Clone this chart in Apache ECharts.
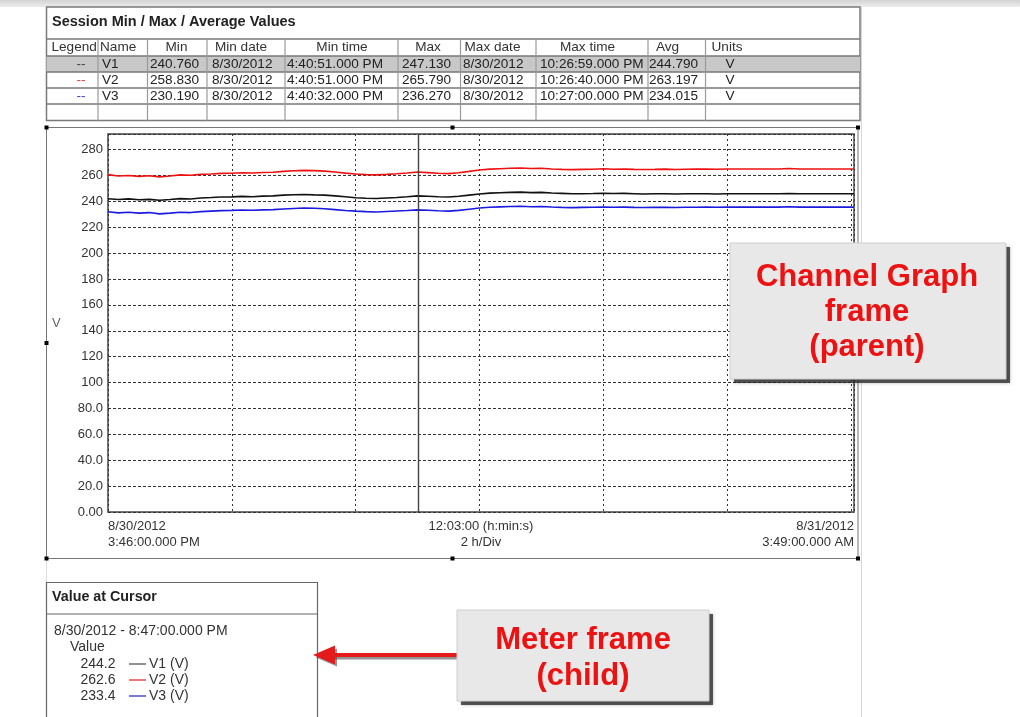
<!DOCTYPE html>
<html><head><meta charset="utf-8">
<script src="https://cdn.jsdelivr.net/npm/echarts@6/dist/echarts.min.js"></script>
<style>html,body{margin:0;padding:0;background:#fff}#c{width:1020px;height:717px}</style>
</head><body><div id="c"></div>
<script>
// ---- data ----
// minutes elapsed since 8/30/2012 3:46:00 PM
const minutes = [0,10,20,30,40,50,60,70,80,90,100,110,120,130,140,150,160,170,180,190,200,210,220,230,240,250,260,270,280,290,300,310,320,330,340,350,360,370,380,390,400,410,420,430,440,450,460,470,480,490,500,510,520,530,540,550,560,570,580,590,600,610,620,630,640,650,660,670,680,690,700,710,720,723];
const v1 = [242.0,241.4,241.9,241.2,241.5,240.8,241.4,242.1,241.8,242.6,242.9,243.3,243.4,243.8,243.5,244.0,244.2,244.8,245.1,245.3,245.0,244.8,244.2,243.5,242.8,242.4,242.2,242.6,243.0,243.5,244.2,243.9,243.5,243.3,243.9,244.8,245.7,246.3,246.6,246.9,247.1,246.7,246.9,246.4,246.1,245.8,245.9,246.0,246.2,246.0,246.1,245.9,245.7,245.8,245.9,245.7,245.8,245.8,245.9,245.7,245.8,245.8,245.8,245.8,245.8,245.8,246.0,245.8,245.8,245.8,245.8,245.8,245.8,245.8];
const v2 = [260.6,259.5,259.9,259.3,259.7,258.9,259.6,260.4,260.1,260.8,261.1,261.6,261.7,262.1,261.9,262.3,262.5,263.1,263.6,263.9,263.7,263.3,262.6,261.8,261.1,260.6,260.4,260.8,261.3,261.9,262.6,262.2,261.7,261.4,262.1,263.1,264.2,264.9,265.2,265.5,265.7,265.3,265.5,265.0,264.7,264.5,264.7,264.8,265.1,264.8,264.9,264.7,264.6,264.7,264.9,264.6,264.8,264.9,264.9,264.8,265.0,265.0,265.0,265.0,265.0,265.0,265.3,265.0,265.0,265.0,265.0,265.0,265.0,265.0];
const v3 = [232.0,231.1,231.5,230.9,231.3,230.3,230.9,231.6,231.3,232.0,232.4,232.8,233.0,233.3,233.1,233.4,233.6,234.1,234.5,234.8,234.6,234.2,233.6,232.9,232.4,232.0,231.7,232.1,232.5,232.9,233.4,233.1,232.7,232.4,233.0,233.9,234.8,235.4,235.7,236.0,236.2,235.8,236.0,235.6,235.3,235.1,235.3,235.4,235.6,235.4,235.5,235.3,235.2,235.3,235.4,235.2,235.4,235.4,235.5,235.4,235.5,235.5,235.5,235.5,235.5,235.5,235.8,235.5,235.5,235.5,235.5,235.5,235.5,235.5];
const cursorMinute = 301;
const seriesNames = ['V1','V2','V3'];
const seriesColors = ['#111111','#ee1111','#1a1ae0'];
const legendColors = ['#444444','#e04040','#4040c8'];
const sampleColors = ['#555555','#e03030','#3030c0'];
const yTicks = [0,20,40,60,80,100,120,140,160,180,200,220,240,260,280];
const headers = ['Legend','Name','Min','Min date','Min time','Max','Max date','Max time','Avg','Units'];
const minVals = ['240.760','258.830','230.190'];
const minDates = ['8/30/2012','8/30/2012','8/30/2012'];
const minTimes = ['4:40:51.000 PM','4:40:51.000 PM','4:40:32.000 PM'];
const maxVals = ['247.130','265.790','236.270'];
const maxDates = ['8/30/2012','8/30/2012','8/30/2012'];
const maxTimes = ['10:26:59.000 PM','10:26:40.000 PM','10:27:00.000 PM'];
const avgVals = ['244.790','263.197','234.015'];
const units = ['V','V','V'];
const cursorLabel = '8/30/2012 - 8:47:00.000 PM';
const cursorVals = ['244.2','262.6','233.4'];
const xStartLabel = ['8/30/2012','3:46:00.000 PM'];
const xMidLabel = ['12:03:00 (h:min:s)','2 h/Div'];
const xEndLabel = ['8/31/2012','3:49:00.000 AM'];

// ---- helpers ----
const F = '"Liberation Sans", Arial, sans-serif';
function txt(x, y, s, o) {
  o = o || {};
  return {type:'text', x:x, y:y, z:o.z||10, silent:true,
    style:{text:s, fill:o.fill||'#222', font:(o.bold?'bold ':'')+(o.size||13.6)+'px '+F,
      textAlign:o.align||'left', textVerticalAlign:'middle'}};
}
function ln(x1,y1,x2,y2,color,w,z) {
  return {type:'line', silent:true, z:z||5, shape:{x1:x1,y1:y1,x2:x2,y2:y2}, style:{stroke:color, lineWidth:w||1}};
}
function rc(x,y,w,h,style,z) {
  return {type:'rect', silent:true, z:z||4, shape:{x:x,y:y,width:w,height:h}, style:style};
}

const G = [];
// top band
G.push(rc(0,0,1020,7,{fill:new echarts.graphic.LinearGradient(0,0,0,1,[{offset:0,color:'#d4d4d4'},{offset:1,color:'#ececec'}])},1));
// page edge
G.push(ln(861.5,7,861.5,717,'#d8d8d8',1,1));
G.push(ln(46.5,558,46.5,582,'#dddddd',1,1));

// ---- table ----
const tL = 46.5, tR = 860, tT = 7, tB = 120.5;
G.push(rc(tL,tT,tR-tL,tB-tT,{fill:'#fff',stroke:'#7a7a7a',lineWidth:1.5},3));
G.push(rc(tL,56,tR-tL,16,{fill:'#c8c8c8'},3));
[39,56,72,88,104].forEach(y=>G.push(ln(tL,y,tR,y,'#777',1.5,5)));
const colX = [98,147.5,207,285,398,460.5,536,648,705.5];
colX.forEach(x=>G.push(ln(x,39,x,tB,'#9a9a9a',1.2,5)));
G.push(txt(52,21.5,'Session Min / Max / Average Values',{bold:true,size:14.5,fill:'#222'}));
// header texts
const hPos = [[51.5,'left'],[100,'left'],[176.5,'center'],[241,'center'],[342,'center'],[428,'center'],[492.5,'center'],[587.5,'center'],[667.5,'center'],[711.5,'left']];
headers.forEach((h,i)=>G.push(txt(hPos[i][0],47.5,h,{align:hPos[i][1],fill:'#333'})));
const rowY = [64,80,96];
seriesNames.forEach((n,i)=>{
  const y = rowY[i];
  G.push(txt(81,y,'--',{align:'center',fill:legendColors[i]}));
  G.push(txt(102,y,n));
  G.push(txt(150,y,minVals[i]));
  G.push(txt(212,y,minDates[i]));
  G.push(txt(287,y,minTimes[i]));
  G.push(txt(402,y,maxVals[i]));
  G.push(txt(463,y,maxDates[i]));
  G.push(txt(540,y,maxTimes[i]));
  G.push(txt(649,y,avgVals[i]));
  G.push(txt(730,y,units[i],{align:'center'}));
});

// ---- chart frame ----
G.push(rc(46.5,127.5,811.5,431,{fill:'none',stroke:'#777',lineWidth:1},3));
[[46.5,127.5],[452.5,127.5],[858,127.5],[46.5,343],[858,343],[46.5,558.5],[452.5,558.5],[858,558.5]].forEach(p=>G.push(rc(p[0]-2,p[1]-2,4,4,{fill:'#000'},6)));
G.push(txt(52,323,'V',{fill:'#666',size:13}));
G.push(txt(108,526.5,xStartLabel[0],{size:13,fill:'#333'}));
G.push(txt(108,542,xStartLabel[1],{size:13,fill:'#333'}));
G.push(txt(481,526.5,xMidLabel[0],{size:13,fill:'#333',align:'center'}));
G.push(txt(481,542,xMidLabel[1],{size:13,fill:'#333',align:'center'}));
G.push(txt(854,526.5,xEndLabel[0],{size:13,fill:'#333',align:'right'}));
G.push(txt(854,542,xEndLabel[1],{size:13,fill:'#333',align:'right'}));

// ---- meter frame ----
G.push(rc(46.5,582.5,271,150,{fill:'#fff',stroke:'#666',lineWidth:1.2},3));
G.push(ln(46.5,614,317.5,614,'#666',1.2,5));
G.push(txt(52,597,'Value at Cursor',{bold:true,size:14.3}));
G.push(txt(54,631,cursorLabel,{size:14,fill:'#333'}));
G.push(txt(70,647.5,'Value',{size:14,fill:'#333'}));
seriesNames.forEach((n,i)=>{
  const y = 664 + i*16;
  G.push(txt(80.5,y,cursorVals[i],{size:14,fill:'#333'}));
  G.push(ln(129,y,146,y,sampleColors[i],1.3,6));
  G.push(txt(149,y,n+' (V)',{size:14,fill:'#333'}));
});

// ---- callouts ----
function callout(x,y,w,h) {
  G.push(rc(x+4,y+4,w,h,{fill:'rgba(40,40,40,0.75)',shadowBlur:3,shadowColor:'rgba(0,0,0,0.4)'},48));
  G.push(rc(x,y,w,h,{fill:'#e8e8e8',stroke:'#cfcfcf',lineWidth:1},49));
}
const RED = '#ee1111';
callout(730,243,276,136);
G.push(txt(867,277,'Channel Graph',{bold:true,size:31,fill:RED,align:'center',z:50}));
G.push(txt(867,312.5,'frame',{bold:true,size:31,fill:RED,align:'center',z:50}));
G.push(txt(867,347,'(parent)',{bold:true,size:31,fill:RED,align:'center',z:50}));
callout(457,610,252,91);
G.push(txt(583,640,'Meter frame',{bold:true,size:31,fill:RED,align:'center',z:50}));
G.push(txt(583,676.5,'(child)',{bold:true,size:31,fill:RED,align:'center',z:50}));
// arrow with shadow
G.push({type:'line',silent:true,z:46,shape:{x1:334,y1:657.5,x2:458,y2:657.5},style:{stroke:'rgba(60,60,60,0.55)',lineWidth:4}});
G.push({type:'polygon',silent:true,z:46,shape:{points:[[316,657.5],[337,648.5],[337,666.5]]},style:{fill:'rgba(60,60,60,0.55)'}});
G.push({type:'line',silent:true,z:47,shape:{x1:332,y1:655,x2:458,y2:655},style:{stroke:'#e51a1a',lineWidth:4}});
G.push({type:'polygon',silent:true,z:47,shape:{points:[[313,655],[335,645.5],[335,664.5]]},style:{fill:'#e51a1a'}});

// ---- chart ----
const chart = echarts.init(document.getElementById('c'), null, {renderer:'canvas'});
const fmtY = v => v >= 100 ? String(v) : (v >= 10 ? v.toFixed(1) : v.toFixed(2));
const series = [v1,v2,v3].map((vals,i)=>({
  name: seriesNames[i], type:'line', showSymbol:false, symbol:'none', z:3,
  data: minutes.map((m,k)=>[m, vals[k]]),
  lineStyle:{color:seriesColors[i], width:1.6},
  itemStyle:{color:seriesColors[i]},
  markLine: i===0 ? {silent:true, symbol:'none', label:{show:false},
    lineStyle:{color:'#444', width:1.4, type:'solid'}, data:[{xAxis:cursorMinute}]} : undefined
}));
chart.setOption({
  animation:false,
  backgroundColor:'#ffffff',
  grid:{left:108, top:134, width:746, height:378, show:true, backgroundColor:'#fff', borderColor:'#444', borderWidth:1.5, containLabel:false, outerBoundsMode:'none'},
  xAxis:{type:'value', min:0, max:723, interval:120,
    axisLine:{show:false}, axisTick:{show:false}, axisLabel:{show:false},
    splitLine:{show:true, lineStyle:{color:'#333', width:1, type:[2,3]}}},
  yAxis:{type:'value', min:yTicks[0], max:292, interval:20,
    axisLine:{show:false}, axisTick:{show:false},
    axisLabel:{show:true, showMaxLabel:false, margin:5, color:'#333', fontSize:13, fontFamily:F, formatter:fmtY},
    splitLine:{show:true, lineStyle:{color:'#333', width:1, type:[3,2]}}},
  series: series,
  graphic:{elements:G}
});
</script></body></html>
